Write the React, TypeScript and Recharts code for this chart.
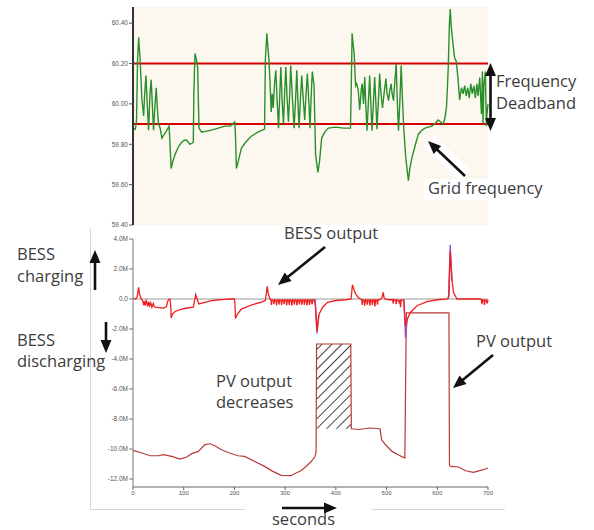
import React from "react";
import {
  LineChart,
  Line,
  XAxis,
  YAxis,
  CartesianGrid,
  ReferenceLine,
  ReferenceArea,
} from "recharts";

// ---------- DATA ----------
const timeTicks = [0, 100, 200, 300, 400, 500, 600, 700];
const freqTicks = [59.4, 59.6, 59.8, 60.0, 60.2, 60.4];
const powerTicks = [-12, -10, -8, -6, -4, -2, 0, 2, 4];
const deadbandHigh = 60.2;
const deadbandLow = 59.9;
const curtailStart = 362;
const curtailEnd = 430;
const curtailTop = -3.0;
const curtailBottom = -8.65;

// grid frequency [seconds, Hz]
const gridFrequency: [number, number][] = [
  [0, 59.88], [4.6, 59.875], [7, 59.92], [9, 60.22], [11.1, 60.33], [14, 60.22],
  [17.6, 60.02], [21, 59.94], [23, 60.05], [25.5, 60.14], [28, 60.0], [30.7, 59.87],
  [33.5, 60.05], [35.9, 60.12], [38, 60.0], [40.5, 59.87], [43, 59.98], [45.8, 60.08],
  [48, 59.98], [50.3, 59.9], [53.6, 59.88], [56.9, 59.83], [62, 59.85], [67, 59.87],
  [71.2, 59.89], [73, 59.8], [75.2, 59.68], [79, 59.72], [83, 59.75], [90, 59.79],
  [96, 59.81], [101, 59.82], [105.9, 59.82], [109, 59.81], [112.4, 59.8], [116, 59.805],
  [118.9, 59.81], [120, 60.05], [122.2, 60.25], [125, 60.22], [127.5, 60.18], [130.1, 59.88],
  [135.3, 59.86], [145, 59.865], [154.9, 59.87], [168, 59.88], [181, 59.89], [192, 59.89],
  [200.6, 59.91], [202, 59.85], [203.9, 59.68], [208, 59.72], [213.7, 59.78], [222, 59.81],
  [233.3, 59.84], [246, 59.86], [259.4, 59.875], [261, 60.22], [264, 60.35], [266, 60.28],
  [268, 60.22], [270, 60.12], [272.5, 59.96], [274.5, 60.05], [276.5, 59.98], [279, 60.1],
  [281.7, 60.166], [284.5, 60.0], [287, 59.88], [289.5, 60.05], [291.5, 60.183], [294, 60.02],
  [296.7, 59.9], [299, 60.05], [301.3, 60.183], [304, 60.02], [306.5, 59.91], [309, 60.05],
  [311, 60.19], [314.5, 60.02], [317.6, 59.88], [320.5, 60.02], [323, 60.166], [325, 60.02],
  [327.5, 59.88], [330, 60.02], [332.7, 60.14], [335.5, 60.03], [338.6, 59.92], [341, 60.04],
  [343.8, 60.15], [346.5, 60.02], [349, 59.88], [351.5, 60.05], [353.6, 60.16], [357, 60.09],
  [360, 59.75], [364.7, 59.66], [368, 59.72], [372, 59.83], [378, 59.86], [385, 59.88],
  [400, 59.885], [415, 59.88], [428.8, 59.88], [430.5, 60.1], [432, 60.35], [434, 60.3],
  [436, 60.25], [439, 60.09], [441, 60.1], [444, 60.07], [447, 59.97], [450, 60.07],
  [452, 60.1], [454.5, 60.0], [456.9, 60.133], [459, 60.0], [461.4, 59.867], [464, 60.0],
  [466.7, 60.14], [469, 60.0], [471.2, 59.867], [474, 60.0], [476.5, 60.133], [479, 60.0],
  [481, 59.875], [484, 60.02], [486.3, 60.15], [489, 60.05], [492, 59.98], [495, 60.05],
  [498.7, 60.125], [501, 60.05], [504, 60.016], [506, 60.06], [509, 60.1], [511, 60.05],
  [513.7, 60.016], [516, 60.1], [519, 60.2], [521, 60.02], [523.5, 59.867], [526, 60.0],
  [528.8, 60.19], [531, 60.04], [533.7, 59.89], [536, 59.8], [538, 59.73], [543, 59.62],
  [546, 59.68], [549.7, 59.73], [556, 59.79], [562.7, 59.85], [570, 59.87], [575.8, 59.88],
  [582, 59.885], [588.8, 59.89], [595, 59.9], [601.9, 59.92], [607, 59.91], [611.8, 59.9],
  [615, 59.93], [618, 59.98], [620, 60.08], [621.6, 60.18], [624, 60.4], [625.5, 60.47],
  [627.6, 60.38], [630.9, 60.3], [634, 60.23], [637.4, 60.21], [640.7, 60.13], [644, 60.02],
  [647.7, 60.08], [651, 60.05], [654, 60.09], [657, 60.04], [660, 60.08], [663, 60.03],
  [666, 60.1], [669, 60.05], [672, 60.09], [675, 60.03], [678, 60.1], [680.4, 60.04],
  [683.7, 60.13], [687, 59.95], [689, 60.16], [690.2, 59.9], [692, 60.1], [694.8, 60.16],
  [696.7, 59.89], [698, 59.95], [700, 60.0],
];

// BESS output [seconds, MW]
const bessOutput: [number, number][] = [
  [0, 0.05], [5, 0], [8, 0.1], [11.1, 0.77], [13, 0.3], [16.3, 0], [19, -0.1], [21, -0.4],
  [22.5, -0.15], [24.2, -0.45], [26, -0.1], [27.5, -0.2], [29, -0.5], [31, -0.2], [33, -0.45],
  [35, -0.25], [37.3, -0.55], [40, -0.3], [42, -0.5], [43.8, -0.55], [50, -0.58], [60, -0.6],
  [66, -0.5], [68, -0.2], [70, -0.05], [73, 0], [74.5, -0.5], [75.2, -1.27], [78, -1.0],
  [83, -0.83], [96, -0.67], [106, -0.6], [118.9, -0.55], [121, -0.2], [123.5, 0.29], [126, 0.05],
  [127.5, -0.1], [130, -0.33], [141.8, -0.22], [154.9, -0.11], [170, -0.05], [181, -0.03],
  [190, 0], [200, 0], [201, -0.3], [202, -1.3], [206, -1.0], [213.7, -0.67], [233.3, -0.4],
  [256.2, -0.18], [261, -0.1], [262.5, 0.3], [264.7, 0.84], [267, 0.3], [270, 0],
  [272, -0.05], [273, -0.4], [274.5, -0.05], [277, -0.1], [278, -0.35], [279.5, -0.05],
  [282, -0.1], [283, -0.42], [284.5, -0.05], [287, -0.1], [288, -0.38], [289.5, -0.05],
  [292, -0.1], [293, -0.4], [294.5, -0.05], [297, -0.1], [298, -0.35], [299.5, -0.05],
  [302, -0.1], [303, -0.42], [304.5, -0.05], [307, -0.1], [308, -0.4], [309.5, -0.05],
  [312, -0.1], [313, -0.45], [314.5, -0.05], [317, -0.1], [318, -0.38], [319.5, -0.05],
  [322, -0.1], [323, -0.42], [324.5, -0.05], [327, -0.1], [328, -0.36], [329.5, -0.05],
  [332, -0.1], [333, -0.4], [334.5, -0.05], [337, -0.1], [338, -0.38], [339.5, -0.05],
  [342, -0.1], [343, -0.42], [344.5, -0.05], [347, -0.1], [348, -0.4], [349.5, -0.05],
  [352, -0.1], [353, -0.35], [355, -0.05], [358, -0.1], [360, -0.5], [362.7, -2.16],
  [367, -1.0], [374, -0.55], [383.7, -0.22], [400, -0.1], [420, -0.05], [430, 0],
  [432.7, 0.95], [436, 0.6], [439, 0.33], [444, 0.1], [449, 0], [451, -0.05], [452, -0.4],
  [453.5, -0.05], [456, -0.1], [457, -0.45], [458.5, -0.05], [461, -0.1], [462, -0.38],
  [463.5, -0.05], [466, -0.1], [467, -0.45], [468.5, -0.05], [471, -0.1], [472, -0.4],
  [473.5, -0.05], [476, -0.1], [477, -0.5], [478.5, -0.05], [481, -0.1], [482, -0.38],
  [483.5, -0.05], [486, -0.05], [489, 0], [491, 0.1], [493.5, 0.44], [495, 0.1], [497, 0],
  [505, -0.05], [512, -0.05], [513, -0.3], [514.5, -0.05], [518, -0.1], [519, -0.35],
  [520.5, -0.05], [524, -0.1], [525, -0.3], [526.5, -0.05], [527.5, -0.55], [529, -0.05],
  [534, -0.1], [537.3, -1.8], [540, -1.4], [547, -0.9], [560, -0.45], [579.7, -0.18],
  [600, -0.05], [620, 0], [623, 0.2], [625.5, 3.2], [628.8, 1.3], [632, 0.44], [638.6, 0],
  [684, 0], [687, -0.05], [688, -0.35], [689.5, -0.05], [692, -0.1], [693, -0.4],
  [694.5, -0.05], [697, -0.1], [698, -0.3], [700, -0.05],
];

// BESS command peaks (purple) [seconds, MW]
const bessCommand: [number, number | null][] = [
  [359, 0], [362.7, -2.3], [366, -1.1], [368, null],
  [534, 0], [537.3, -2.6], [541, -1.3], [544, null],
  [622, 0], [625.5, 3.62], [629, 1.2], [632, null],
];

// PV output [seconds, MW]
const pvOutput: [number, number][] = [
  [0, -10.09], [17.6, -10.27], [34, -10.45], [50.3, -10.45], [60, -10.38], [76.5, -10.49],
  [92.8, -10.67], [105.9, -10.53], [115.7, -10.31], [128.8, -10.16], [141.8, -9.71],
  [151.6, -9.65], [161.4, -9.78], [174.5, -10.05], [187.6, -10.23], [207.2, -10.45],
  [220.3, -10.49], [239.9, -10.83], [259.5, -11.16], [275.8, -11.49], [292.2, -11.76],
  [311.8, -11.78], [321.6, -11.6], [331, -11.45], [340, -11.2], [351, -10.85], [358.8, -10.5],
  [361, -10.2], [362, -3.0], [429.4, -3.0], [430.5, -8.65], [445.8, -8.7], [465.4, -8.6],
  [487, -8.65], [490.2, -9.38], [497.6, -9.7], [510.7, -10.16], [523.8, -10.4], [536, -10.6],
  [539, -0.93], [623, -0.93], [624, -11.1], [627, -11.16], [641.8, -11.2], [656, -11.45],
  [671.2, -11.56], [690.8, -11.38], [700, -11.27],
];

const toRows = (pairs: [number, number | null][]) => pairs.map(([t, v]) => ({ t, v }));
const freqRows = toRows(gridFrequency);
const bessRows = toRows(bessOutput);
const cmdRows = toRows(bessCommand);
const pvRows = toRows(pvOutput);

// ---------- STYLE ----------
const tickFont = { fontSize: 6.5, fill: "#555", fontFamily: "Liberation Sans, Arial, sans-serif" };
const noteFont: React.CSSProperties = {
  fontFamily: "'Open Sans', 'Noto Sans', sans-serif",
  fontSize: 16.5,
  fill: "#3c3c3c",
};

function Arrow({ x1, y1, x2, y2, both = false, w = 2.6, head = 13, hw = 5.5 }: any) {
  const dx = x2 - x1;
  const dy = y2 - y1;
  const len = Math.hypot(dx, dy);
  const ux = dx / len;
  const uy = dy / len;
  const px = -uy;
  const py = ux;
  const headAt = (tx: number, ty: number, dirx: number, diry: number) => {
    const bx = tx - dirx * head;
    const by = ty - diry * head;
    return `${tx},${ty} ${bx + px * hw},${by + py * hw} ${bx - px * hw},${by - py * hw}`;
  };
  const sx = both ? x1 + ux * (head - 2) : x1;
  const sy = both ? y1 + uy * (head - 2) : y1;
  const ex = x2 - ux * (head - 2);
  const ey = y2 - uy * (head - 2);
  return (
    <g>
      <line x1={sx} y1={sy} x2={ex} y2={ey} stroke="#111" strokeWidth={w} />
      <polygon points={headAt(x2, y2, ux, uy)} fill="#111" />
      {both && <polygon points={headAt(x1, y1, -ux, -uy)} fill="#111" />}
    </g>
  );
}

export default function App() {
  return (
    <div style={{ position: "absolute", left: 0, top: 0, width: 594, height: 530, background: "#fff" }}>
      {/* Frequency panel */}
      <div style={{ position: "absolute", left: 0, top: 0 }}>
        <LineChart width={500} height={230} margin={{ top: 7, right: 12, left: 0, bottom: 5 }}>
          <CartesianGrid fill="#fdf8ef" stroke="none" horizontal={false} vertical={false} />
          <XAxis type="number" dataKey="t" domain={[0, 700]} ticks={timeTicks} hide />
          <YAxis
            type="number"
            domain={[59.4, 60.48]}
            ticks={freqTicks}
            width={133}
            tick={tickFont}
            tickSize={4}
            tickMargin={1}
            tickFormatter={(v: number) => v.toFixed(2)}
            axisLine={{ stroke: "#333", strokeWidth: 2 }}
            tickLine={{ stroke: "#555" }}
            allowDataOverflow
          />
          <ReferenceLine y={deadbandHigh} stroke="#d40000" strokeWidth={2} />
          <ReferenceLine y={deadbandLow} stroke="#d40000" strokeWidth={2} />
          <Line
            data={freqRows}
            dataKey="v"
            type="linear"
            stroke="#2a8f2a"
            strokeWidth={1.4}
            dot={false}
            isAnimationActive={false}
          />
        </LineChart>
      </div>

      {/* Power panel */}
      <div style={{ position: "absolute", left: 0, top: 230 }}>
        <LineChart width={500} height={275} margin={{ top: 9, right: 12, left: 0, bottom: 0 }}>
          <defs>
            <pattern id="hatch" patternUnits="userSpaceOnUse" width="7" height="7" patternTransform="rotate(45)">
              <line x1="0" y1="0" x2="0" y2="7" stroke="#111" strokeWidth="1.6" />
            </pattern>
          </defs>
          <XAxis
            type="number"
            dataKey="t"
            domain={[0, 700]}
            ticks={timeTicks}
            height={18}
            tick={{ ...tickFont, fontSize: 6 }}
            tickSize={3}
            tickMargin={1}
            axisLine={{ stroke: "#666" }}
            tickLine={{ stroke: "#666" }}
          />
          <YAxis
            type="number"
            domain={[-12, 4]}
            ticks={powerTicks}
            width={133}
            padding={{ top: 0, bottom: 8 }}
            tick={tickFont}
            tickSize={4}
            tickMargin={1}
            tickFormatter={(v: number) => (v === 0 ? "0.0" : `${v.toFixed(1)}M`)}
            axisLine={{ stroke: "#777" }}
            tickLine={{ stroke: "#777" }}
          />
          <ReferenceLine y={0} stroke="#9a9a9a" strokeWidth={1} />
          <ReferenceArea
            x1={curtailStart}
            x2={curtailEnd}
            y1={curtailBottom}
            y2={curtailTop}
            fill="url(#hatch)"
            fillOpacity={1}
            stroke="none"
          />
          <Line
            data={pvRows}
            dataKey="v"
            type="linear"
            stroke="#b83a3a"
            strokeWidth={1.2}
            dot={false}
            isAnimationActive={false}
          />
          <Line
            data={cmdRows}
            dataKey="v"
            type="linear"
            stroke="#9b4fc8"
            strokeWidth={1.3}
            dot={false}
            connectNulls={false}
            isAnimationActive={false}
          />
          <Line
            data={bessRows}
            dataKey="v"
            type="linear"
            stroke="#f01e1e"
            strokeWidth={1.3}
            dot={false}
            isAnimationActive={false}
          />
        </LineChart>
      </div>

      {/* Annotations */}
      <svg
        width={594}
        height={530}
        style={{ position: "absolute", left: 0, top: 0, pointerEvents: "none" }}
      >
        {/* light frame lines */}
        <line x1={90.5} y1={228} x2={90.5} y2={509} stroke="#d6d6d6" strokeWidth={1} />
        <line x1={90} y1={509.5} x2={245} y2={509.5} stroke="#d6d6d6" strokeWidth={1} />
        <line x1={372} y1={509.5} x2={505} y2={509.5} stroke="#d6d6d6" strokeWidth={1} />

        {/* Grid frequency label with white backing */}
        <polygon points="470,170 460,181 424,146 434,135" fill="#fff" />
        <rect x={424} y={179} width={126} height={21} fill="#fff" />
        <Arrow x1={465} y1={176} x2={428} y2={141} />
        <text x={428} y={194} style={noteFont}>Grid frequency</text>

        {/* Deadband */}
        <Arrow x1={490.5} y1={63} x2={490.5} y2={131} both />
        <text x={496} y={87} style={noteFont}>Frequency</text>
        <text x={496} y={108.5} style={noteFont}>Deadband</text>

        {/* BESS output */}
        <text x={284} y={239} style={noteFont}>BESS output</text>
        <Arrow x1={325} y1={247} x2={278} y2={285} />

        {/* charging / discharging */}
        <text x={17} y={260} style={noteFont}>BESS</text>
        <text x={17} y={281.5} style={noteFont}>charging</text>
        <Arrow x1={95} y1={290} x2={95} y2={250} />
        <text x={17} y={345.5} style={noteFont}>BESS</text>
        <text x={17} y={366.5} style={noteFont}>discharging</text>
        <Arrow x1={106} y1={322} x2={106} y2={353} />

        {/* PV output */}
        <text x={476} y={346.5} style={noteFont}>PV output</text>
        <Arrow x1={493} y1={355} x2={453} y2={388} />

        {/* PV output decreases */}
        <text x={216} y={386.5} style={noteFont}>PV output</text>
        <text x={216} y={408} style={noteFont}>decreases</text>

        {/* seconds */}
        <Arrow x1={282} y1={508} x2={337} y2={508} />
        <text x={272} y={525} style={noteFont}>seconds</text>
      </svg>
    </div>
  );
}
